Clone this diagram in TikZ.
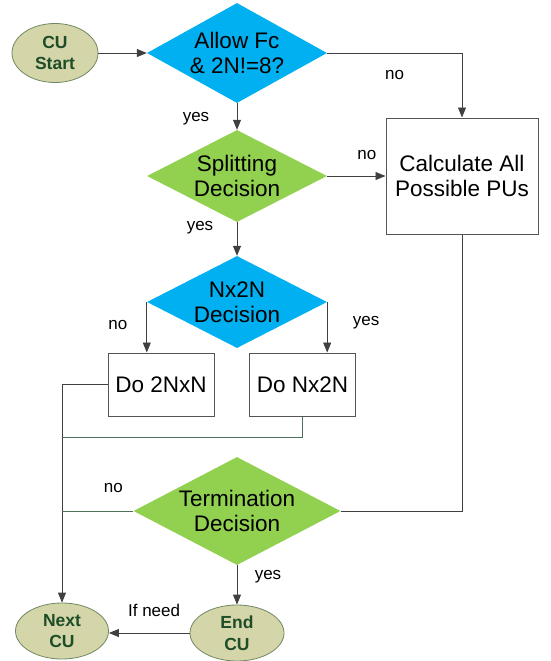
\documentclass[tikz,border=0pt]{standalone}
\usepackage{fontspec}
\setmainfont{Liberation Sans}
\usetikzlibrary{arrows.meta,shapes.geometric}

\definecolor{skyfill}{HTML}{00B0F0}
\definecolor{leaffill}{HTML}{92D050}
\definecolor{khaki}{HTML}{D4D5A9}
\definecolor{rimgreen}{HTML}{6F8A62}
\definecolor{darkgreen}{HTML}{1E4D28}
\definecolor{wire}{HTML}{404040}
\definecolor{wiregreen}{HTML}{4F6F5A}
\definecolor{boxline}{HTML}{555555}

\tikzset{
  decision/.style={diamond, inner sep=0pt, align=center,
    font=\fontsize{22.5}{25}\selectfont,
    minimum width=180pt, minimum height=92pt, aspect=1.96},
  process/.style={rectangle, draw=boxline, line width=1pt, fill=white,
    align=center, font=\fontsize{22.5}{25}\selectfont},
  terminal/.style={ellipse, draw=rimgreen, line width=0.8pt, fill=khaki,
    text=darkgreen, inner sep=0pt, align=center,
    font=\bfseries\fontsize{17.5}{21.5}\selectfont},
  link/.style={draw=wire, line width=0.8pt},
  arr/.style={link, -{Triangle[length=10pt,width=8pt]}},
  lbl/.style={font=\fontsize{17}{20}\selectfont, text=black}
}

\begin{document}
\begin{tikzpicture}[x=1pt,y=1pt]
    \useasboundingbox (0,0) rectangle (550,-661);
    \node[decision, fill=skyfill, minimum height=100pt, aspect=1.8] (allow) at (237,-53) {Allow Fc\\\& 2N!=8?};
    \node[terminal, minimum width=86pt, minimum height=59pt] (start) [left of=allow, node distance=182pt] {CU\\Start};
    \node[decision, fill=leaffill] (split) [below of=allow, node distance=123pt] {Splitting\\Decision};
    \node[process, minimum width=152pt, minimum height=116pt] (calc) [right of=split, node distance=225pt] {Calculate All\\Possible PUs};
    \node[decision, fill=skyfill] (nx) [below of=split, node distance=126pt] {Nx2N\\Decision};
    \node[process, minimum width=106pt, minimum height=63pt] (do2) [below of=nx, node distance=82.5pt, xshift=-76pt] {Do 2NxN};
    \node[process, minimum width=106pt, minimum height=63pt] (donx) [right of=do2, node distance=141.5pt] {Do Nx2N};
    \node[decision, fill=leaffill, minimum width=207pt, minimum height=108pt, aspect=1.92] (term) [below of=nx, node distance=209pt] {Termination\\Decision};
    \node[terminal, minimum width=94pt, minimum height=56pt] (endcu) [below of=term, node distance=122pt] {End\\CU};
    \node[terminal, minimum width=93pt, minimum height=56pt] (next) [left of=endcu, node distance=175pt, yshift=2pt] {Next\\CU};
    \path (donx.south) ++(0,-21) coordinate (join);

    \draw[arr] (start) -- (allow);
    \draw[arr] (allow.east) -| (calc.north) node[lbl, pos=0.25, yshift=-22pt] {no};
    \draw[arr] (allow) -- (split) node[lbl, midway, xshift=-41pt, yshift=-2pt] {yes};
    \draw[arr] (split.east) -- (split.east -| calc.west) node[lbl, pos=0.68, yshift=21pt] {no};
    \draw[arr] (split) -- (nx) node[lbl, pos=0.17, xshift=-37pt] {yes};
    \draw[arr] (nx.west) -- (nx.west |- do2.north) node[lbl, midway, xshift=-29pt, yshift=2pt] {no};
    \draw[arr] (nx.east) -- (nx.east |- donx.north) node[lbl, midway, xshift=39pt, yshift=5pt] {yes};
    \draw[arr] (do2.west) -| (next.north);
    \draw[link, draw=wiregreen] (donx.south) -- (join) -- (join -| next.north);
    \draw[link, draw=wiregreen] (term.west) -- (term.west -| next.north) node[lbl, pos=0.28, yshift=23pt] {no};
    \draw[link] (term.east) -| (calc.south);
    \draw[arr] (term) -- (endcu) node[lbl, pos=0.3, xshift=31pt] {yes};
    \draw[arr] (endcu.west) -- (endcu.west -| next.east) node[lbl, pos=0.44, yshift=23pt] {If need};
\end{tikzpicture}
\end{document}
